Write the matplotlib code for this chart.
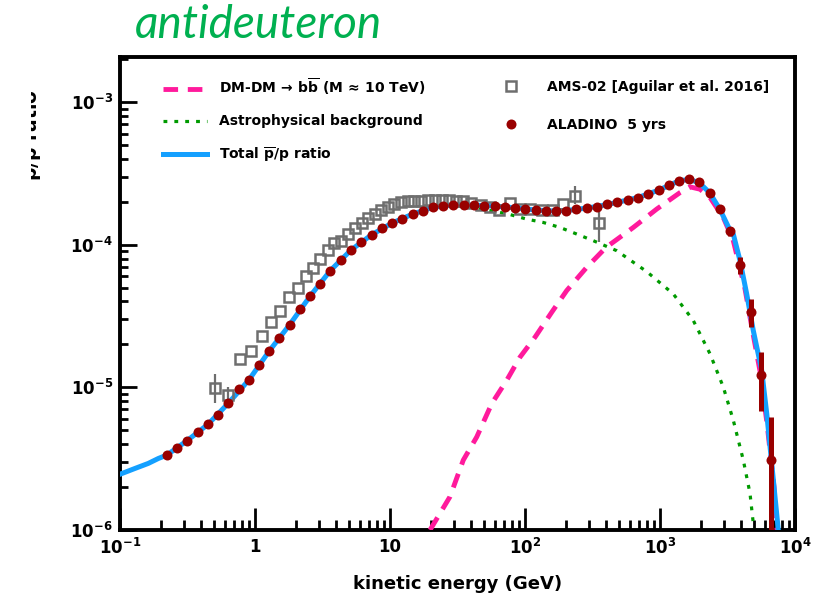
import matplotlib
matplotlib.use("Agg")
import matplotlib.pyplot as plt
from matplotlib.ticker import FixedLocator, FixedFormatter, LogLocator, NullFormatter
from matplotlib.transforms import Bbox, TransformedBbox

plt.rcParams["font.family"] = ["DejaVu Sans"]
plt.rcParams["font.weight"] = "bold"
plt.rcParams["mathtext.fontset"] = "custom"
plt.rcParams["mathtext.rm"] = "DejaVu Sans:bold"
plt.rcParams["mathtext.it"] = "DejaVu Sans:bold:italic"
plt.rcParams["mathtext.bf"] = "DejaVu Sans:bold"
plt.rcParams["mathtext.default"] = "rm"

# ---------------------------------------------------------------- data ----
# ALADINO 5 yrs projected points (kinetic energy in GeV, ratio)
ala_E = [0.222, 0.263, 0.315, 0.376, 0.449, 0.532, 0.634, 0.757, 0.903, 1.071,
         1.276, 1.514, 1.807, 2.154, 2.555, 3.045, 3.612, 4.313, 5.142, 6.13,
         7.317, 8.72, 10.35, 12.33, 14.73, 17.47, 20.83, 24.7, 29.43, 35.15,
         41.9, 49.94, 59.64, 71.1, 84.8, 100.5, 120.0, 142.3, 169.7, 201.2,
         239.9, 286.4, 341.5, 407.0, 482.8, 576.4, 687.1, 819.0, 978.0, 1160.0,
         1383.0, 1640.0, 1955.0, 2334.0, 2783.0, 3317.0, 3934.0, 4682.0, 5600.0, 6673.0]
ala_R = [3.35e-6, 3.76e-6, 4.24e-6, 4.84e-6, 5.51e-6, 6.44e-6, 7.73e-6, 9.68e-6, 1.132e-5, 1.425e-5,
         1.805e-5, 2.226e-5, 2.745e-5, 3.55e-5, 4.35e-5, 5.34e-5, 6.58e-5, 7.82e-5, 9.18e-5, 1.044e-4,
         1.175e-4, 1.308e-4, 1.418e-4, 1.52e-4, 1.639e-4, 1.729e-4, 1.829e-4, 1.883e-4, 1.905e-4, 1.905e-4,
         1.895e-4, 1.883e-4, 1.865e-4, 1.844e-4, 1.815e-4, 1.777e-4, 1.749e-4, 1.729e-4, 1.72e-4, 1.729e-4,
         1.766e-4, 1.805e-4, 1.853e-4, 1.92e-4, 1.982e-4, 2.054e-4, 2.142e-4, 2.262e-4, 2.413e-4, 2.628e-4,
         2.804e-4, 2.894e-4, 2.745e-4, 2.31e-4, 1.766e-4, 1.246e-4, 7.25e-5, 3.4e-5, 1.227e-5, 3.11e-6]
# visible error bars on the last ALADINO points
ala_err_idx = [55, 56, 57, 58, 59]
ala_err_lo = [1.156e-4, 6.23e-5, 2.63e-5, 6.83e-6, 1.0e-7]
ala_err_hi = [1.321e-4, 8.15e-5, 4.19e-5, 1.766e-5, 6.2e-6]

# AMS-02 measurement
ams_E = [0.503, 0.628, 0.770, 0.934, 1.121, 1.318, 1.539, 1.786, 2.072, 2.367,
         2.681, 3.045, 3.444, 3.862, 4.335, 4.844, 5.524, 6.182, 6.871, 7.677,
         8.604, 9.583, 10.7, 12.06, 13.48, 15.06, 16.97, 19.12, 21.54, 24.28,
         27.35, 30.82, 35.03, 40.15, 46.82, 55.05, 64.73, 76.8, 91.06, 108.9,
         132.9, 162.0, 192.2, 234.6, 355.2]
ams_R = [9.95e-6, 8.79e-6, 1.57e-5, 1.799e-5, 2.292e-5, 2.862e-5, 3.444e-5, 4.31e-5, 4.96e-5, 5.99e-5,
         6.91e-5, 7.92e-5, 9.2e-5, 1.029e-4, 1.07e-4, 1.18e-4, 1.308e-4, 1.41e-4, 1.527e-4, 1.647e-4,
         1.751e-4, 1.844e-4, 1.92e-4, 1.982e-4, 2.021e-4, 2.031e-4, 2.031e-4, 2.047e-4, 2.064e-4, 2.064e-4,
         2.054e-4, 2.031e-4, 2.014e-4, 1.95e-4, 1.889e-4, 1.829e-4, 1.757e-4, 1.966e-4, 1.771e-4, 1.771e-4,
         1.749e-4, 1.749e-4, 1.926e-4, 2.202e-4, 1.418e-4]
ams_err_idx = [0, 1, 43, 44]
ams_err_lo = [7.76e-6, 7.73e-6, 1.935e-4, 1.038e-4]
ams_err_hi = [1.233e-5, 1.0e-5, 2.586e-4, 1.729e-4]

# total pbar/p model
tot_E = [0.1, 0.129, 0.162, 0.192, 0.222, 0.315, 0.449, 0.634, 0.903, 1.276,
         1.807, 2.555, 3.612, 5.142, 7.317, 10.35, 14.73, 20.83, 29.43, 41.9,
         59.64, 84.8, 120.0, 169.7, 239.9, 341.5, 482.8, 687.1, 978.0, 1383.0,
         1640.0, 1955.0, 2334.0, 2783.0, 3317.0, 3491.0, 3914.0, 4387.0, 4910.0, 5667.0,
         6172.0, 6720.0, 7520.0]
tot_R = [2.46e-6, 2.70e-6, 2.93e-6, 3.17e-6, 3.35e-6, 4.24e-6, 5.51e-6, 7.73e-6, 1.13e-5, 1.80e-5,
         2.75e-5, 4.35e-5, 6.58e-5, 9.18e-5, 1.175e-4, 1.418e-4, 1.64e-4, 1.83e-4, 1.905e-4, 1.895e-4,
         1.865e-4, 1.815e-4, 1.75e-4, 1.72e-4, 1.766e-4, 1.853e-4, 1.982e-4, 2.142e-4, 2.413e-4, 2.804e-4,
         2.87e-4, 2.72e-4, 2.31e-4, 1.766e-4, 1.25e-4, 1.188e-4, 7.73e-5, 4.52e-5, 2.50e-5, 1.315e-5,
         6.58e-6, 2.94e-6, 1.0e-6]

# astrophysical background
bkg_E = [0.1, 0.129, 0.162, 0.192, 0.222, 0.315, 0.449, 0.634, 0.903, 1.276,
         1.807, 2.555, 3.612, 5.142, 7.317, 10.35, 14.73, 20.83, 29.43, 46.0,
         75.2, 102.9, 136.6, 181.7, 241.5, 320.5, 477.9, 797.0, 1254.0, 1765.0,
         2346.0, 2943.0, 3491.0, 4141.0, 4642.0, 4969.0, 5050.0]
bkg_R = [2.46e-6, 2.70e-6, 2.93e-6, 3.17e-6, 3.35e-6, 4.24e-6, 5.51e-6, 7.73e-6, 1.13e-5, 1.80e-5,
         2.75e-5, 4.35e-5, 6.58e-5, 9.18e-5, 1.175e-4, 1.418e-4, 1.64e-4, 1.83e-4, 1.88e-4, 1.80e-4,
         1.639e-4, 1.512e-4, 1.432e-4, 1.321e-4, 1.188e-4, 1.067e-4, 9.08e-5, 6.48e-5, 4.52e-5, 2.94e-5,
         1.72e-5, 1.005e-5, 5.88e-6, 3.09e-6, 1.805e-6, 1.0e-6, 0.9e-6]

# dark matter contribution
dm_E = [19.79, 27.8, 34.9, 43.9, 56.7, 73.2, 91.8, 118.6, 157.7, 203.7,
        286.4, 398.0, 634.0, 945.0, 1407.0, 1668.0, 1978.0, 2346.0, 2943.0, 3491.0,
        4262.0, 4801.0, 5506.0, 6203.0, 6991.0, 7357.0]
dm_R = [1.0e-6, 1.71e-6, 3.09e-6, 4.49e-6, 7.69e-6, 1.12e-5, 1.628e-5, 2.247e-5, 3.36e-5, 4.77e-5,
        6.94e-5, 9.57e-5, 1.321e-4, 1.777e-4, 2.32e-4, 2.544e-4, 2.45e-4, 2.142e-4, 1.552e-4, 1.067e-4,
        4.9e-5, 2.6e-5, 1.3e-5, 5.6e-6, 2.0e-6, 1.0e-6]

x_ticks = [0.1, 1, 10, 100, 1000, 10000]
x_labels = ["$10^{-1}$", "1", "10", "$10^{2}$", "$10^{3}$", "$10^{4}$"]
y_ticks = [1e-6, 1e-5, 1e-4, 1e-3]
y_labels = ["$10^{-6}$", "$10^{-5}$", "$10^{-4}$", "$10^{-3}$"]

PINK = "#ff1a9c"
GREEN = "#009a00"
BLUE = "#14a0ff"
DKRED = "#990000"
GREY = "#6e6e6e"

# ---------------------------------------------------------------- plot ----
fig = plt.figure(figsize=(8.18, 5.96), dpi=100)
ax = fig.add_axes([120 / 818, 1 - 530 / 596, 675 / 818, 473 / 596])

l_bkg, = ax.plot(bkg_E, bkg_R, color=GREEN, lw=2.3, ls=(0, (1.2, 2.2)), zorder=2,
                 label="Astrophysical background")
l_dm, = ax.plot(dm_E, dm_R, color=PINK, lw=3.5, ls=(0, (3.0, 2.0)), zorder=3,
                label=r"DM-DM$\,\rightarrow\,$b$\overline{\rm b}$ (M$\,\approx\,$10 TeV)")
l_tot, = ax.plot(tot_E, tot_R, color=BLUE, lw=3.6, zorder=4,
                 label=r"Total $\overline{\rm p}$/p ratio")

ams_eE = [ams_E[i] for i in ams_err_idx]
ams_eR = [ams_R[i] for i in ams_err_idx]
ax.errorbar(ams_eE, ams_eR,
            yerr=[[r - lo for r, lo in zip(ams_eR, ams_err_lo)],
                  [hi - r for r, hi in zip(ams_eR, ams_err_hi)]],
            fmt="none", ecolor=GREY, elinewidth=1.6, zorder=5)
l_ams, = ax.plot(ams_E, ams_R, ls="none", marker="s", ms=7, mfc="none", mec=GREY,
                 mew=1.8, zorder=5, label="AMS-02 [Aguilar et al. 2016]")

ala_eE = [ala_E[i] for i in ala_err_idx]
ala_eR = [ala_R[i] for i in ala_err_idx]
ax.errorbar(ala_eE, ala_eR,
            yerr=[[r - lo for r, lo in zip(ala_eR, ala_err_lo)],
                  [hi - r for r, hi in zip(ala_eR, ala_err_hi)]],
            fmt="none", ecolor=DKRED, elinewidth=3.6, zorder=6)
l_ala, = ax.plot(ala_E, ala_R, ls="none", marker="o", ms=7.2, mfc=DKRED, mec=DKRED,
                 mew=0, zorder=7, label="ALADINO  5 yrs")

ax.set_xscale("log")
ax.set_yscale("log")
ax.set_xlim(0.1, 1e4)
ax.set_ylim(1e-6, 2.07e-3)

ax.xaxis.set_major_locator(FixedLocator(x_ticks))
ax.xaxis.set_major_formatter(FixedFormatter(x_labels))
ax.xaxis.set_minor_locator(LogLocator(base=10, subs=range(2, 10), numticks=20))
ax.xaxis.set_minor_formatter(NullFormatter())
ax.yaxis.set_major_locator(FixedLocator(y_ticks))
ax.yaxis.set_major_formatter(FixedFormatter(y_labels))
ax.yaxis.set_minor_locator(LogLocator(base=10, subs=range(2, 10), numticks=20))
ax.yaxis.set_minor_formatter(NullFormatter())

ax.tick_params(which="both", direction="in", top=False, right=False, width=2.0,
               labelsize=12)
ax.tick_params(axis="x", which="major", length=16, pad=6)
ax.tick_params(axis="x", which="minor", length=7.5)
ax.tick_params(axis="y", which="major", length=12.5, pad=5)
ax.tick_params(axis="y", which="minor", length=6)
for sp in ax.spines.values():
    sp.set_linewidth(2.8)

ax.set_xlabel("kinetic energy (GeV)", fontsize=13, fontweight="bold", labelpad=12)

# y title, partly hidden on the original slide
yl = fig.text(44 / 818, 1 - 135 / 596, r"$\overline{\rm p}$/p ratio", rotation=90,
              ha="right", va="center", fontsize=13.5, fontweight="bold")
yl.set_clip_box(TransformedBbox(Bbox([[31 / 818, 0], [1, 1]]), fig.transFigure))
yl.set_clip_on(True)

# legends
leg1 = ax.legend(handles=[l_dm, l_bkg, l_tot], loc="upper left",
                 bbox_to_anchor=(163 / 818, 1 - 77 / 596), bbox_transform=fig.transFigure,
                 frameon=False, fontsize=10, borderpad=0, borderaxespad=0,
                 handlelength=3.2, handletextpad=0.8, labelspacing=1.22)
ax.add_artist(leg1)
ax.legend(handles=[l_ams, l_ala], loc="upper left",
          bbox_to_anchor=(497 / 818, 1 - 80 / 596), bbox_transform=fig.transFigure,
          frameon=False, fontsize=10, borderpad=0, borderaxespad=0,
          handlelength=2.0, handletextpad=1.6, labelspacing=1.75)

fig.text(135 / 818, 1 - 38 / 596, "antideuteron", color="#00b050", fontsize=33,
         family="Lato", style="italic", weight="normal", ha="left", va="baseline")

fig.savefig("out.png", dpi=100)
